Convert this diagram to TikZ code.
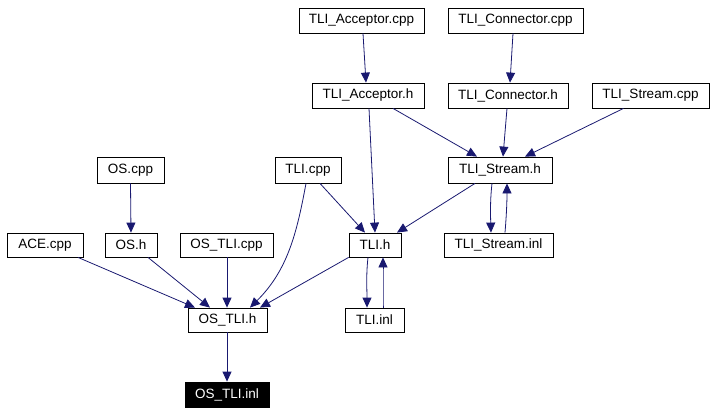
\documentclass[tikz,border=0pt]{standalone}
\usepackage{fontspec}
\setmainfont{Liberation Sans}
\usetikzlibrary{arrows.meta,calc}
\definecolor{edgeblue}{HTML}{191970}
\tikzset{
  file/.style={draw=black,line width=0.8pt,inner sep=0pt,minimum height=25pt,font=\fontsize{13.5}{15}\selectfont,text=black,fill=white},
  cur/.style={file,fill=black,text=white},
  dep/.style={draw=edgeblue,line width=0.8pt,-{Triangle[length=10pt,width=9pt]}}
}
\begin{document}
\begin{tikzpicture}[x=1pt,y=-1pt]
\useasboundingbox (0,0) rectangle (716,413);
\node[file,minimum width=125pt] (tacpp) at (361.5,20.5) {TLI\_Acceptor.cpp};
\node[file,minimum width=135pt] (tccpp) at (515.5,20.5) {TLI\_Connector.cpp};
\node[file,minimum width=112pt] (tah) at (368,95.5) {TLI\_Acceptor.h};
\node[file,minimum width=120pt] (tch) at (508,95.5) {TLI\_Connector.h};
\node[file,minimum width=117pt] (tscpp) at (650.5,95.5) {TLI\_Stream.cpp};
\node[file,minimum width=67pt,minimum height=26pt] (oscpp) at (130.5,170) {OS.cpp};
\node[file,minimum width=66pt,minimum height=26pt] (tlicpp) at (308,170) {TLI.cpp};
\node[file,minimum width=104pt,minimum height=26pt] (tsh) at (500,170) {TLI\_Stream.h};
\node[file,minimum width=76pt,minimum height=24pt] (ace) at (45,245) {ACE.cpp};
\node[file,minimum width=52pt,minimum height=24pt] (osh) at (131,245) {OS.h};
\node[file,minimum width=93pt,minimum height=24pt] (ostlicpp) at (226.5,245) {OS\_TLI.cpp};
\node[file,minimum width=52pt,minimum height=24pt] (tlih) at (375,245) {TLI.h};
\node[file,minimum width=109pt,minimum height=24pt] (tsinl) at (498.5,245) {TLI\_Stream.inl};
\node[file,minimum width=79pt,minimum height=24pt] (ostlih) at (227.5,320) {OS\_TLI.h};
\node[file,minimum width=59pt,minimum height=24pt] (tliinl) at (374.5,320) {TLI.inl};
\node[cur,minimum width=84pt] (ostliinl) at (227,394.5) {OS\_TLI.inl};

\draw[dep] ([xshift=1.5pt]tacpp.south) -- ([xshift=-2pt]tah.north);
\draw[dep] ([xshift=-2.5pt]tccpp.south) -- ([xshift=2pt]tch.north);
\draw[dep] ([xshift=25pt]tah.south) -- ([xshift=-23pt]tsh.north);
\draw[dep] ([xshift=1pt]tah.south) -- (tlih.north);
\draw[dep] ([xshift=-1pt]tch.south) -- ([xshift=3pt]tsh.north);
\draw[dep] ([xshift=-27pt]tscpp.south) -- ([xshift=25pt]tsh.north);
\draw[dep] ([xshift=-25pt]tsh.south) -- ([xshift=22pt]tlih.north);
\draw[dep] ([xshift=-8pt]tsh.south) .. controls ([xshift=-10pt,yshift=-18pt]tsh.south) and ([xshift=-8pt,yshift=18pt]tsinl.north) .. ([xshift=-7.5pt]tsinl.north);
\draw[dep] ([xshift=6.5pt]tsinl.north) .. controls ([xshift=8pt,yshift=18pt]tsinl.north) and ([xshift=7pt,yshift=-18pt]tsh.south) .. ([xshift=7pt]tsh.south);
\draw[dep] ([xshift=12pt]tlicpp.south) -- ([xshift=-10pt]tlih.north);
\draw[dep] ([xshift=-2pt]tlicpp.south) .. controls (297,232) and (288,270) .. ([xshift=22.5pt]ostlih.north);
\draw[dep] (tlih.south west) -- ([xshift=32.5pt]ostlih.north);
\draw[dep] ([xshift=-7pt]tlih.south) .. controls ([xshift=-9pt,yshift=-18pt]tlih.south) and ([xshift=-7.5pt,yshift=18pt]tliinl.north) .. ([xshift=-7.5pt]tliinl.north);
\draw[dep] ([xshift=8.5pt]tliinl.north) .. controls ([xshift=8.5pt,yshift=18pt]tliinl.north) and ([xshift=8pt,yshift=-18pt]tlih.south) .. ([xshift=8pt]tlih.south);
\draw[dep] (oscpp.south) -- (osh.north);
\draw[dep] ([xshift=33pt]ace.south) -- ([xshift=-32.5pt]ostlih.north);
\draw[dep] ([xshift=17pt]osh.south) -- ([xshift=-17.5pt]ostlih.north);
\draw[dep] ([xshift=0.5pt]ostlicpp.south) -- ([xshift=-0.5pt]ostlih.north);
\draw[dep] ([xshift=-0.5pt]ostlih.south) -- (ostliinl.north);
\end{tikzpicture}
\end{document}
